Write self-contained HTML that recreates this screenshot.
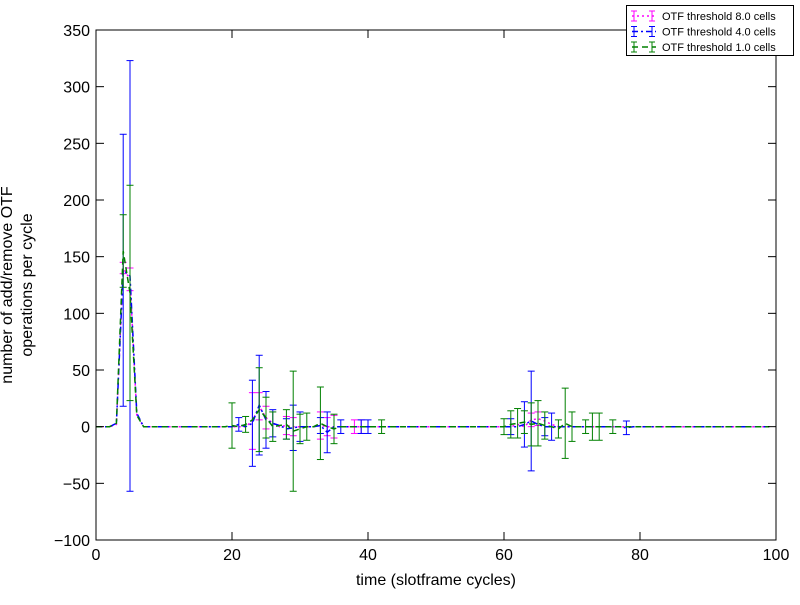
<!DOCTYPE html>
<html><head><meta charset="utf-8"><style>
body{margin:0;background:#fff;}
svg text{font-family:"Liberation Sans","DejaVu Sans",sans-serif;}
</style></head><body>
<svg id="chart" width="800" height="600" xmlns="http://www.w3.org/2000/svg">
<rect width="800" height="600" fill="#fff"/>
<g id="plot"></g>
<g id="axes"></g>
<g id="legend">
<rect x="626.5" y="5.5" width="167" height="50" fill="#fff" stroke="#000"/>
</g>
</svg>
<script>
const xTicks=[0,20,40,60,80,100];
const yTicks=[-100,-50,0,50,100,150,200,250,300,350];
const seriesNames=["OTF threshold 8.0 cells","OTF threshold 4.0 cells","OTF threshold 1.0 cells"];
const magX=[3,4,5,6,23,24,25,26,28,29,33,34,35,38,39,62,64,65,66,67];
const magY=[2,140,130,10,5,18,8,3,1,0,1,0,0,0,0,2,6,7,5,2];
const magErr=[0,5,10,0,25,12,10,0,8,8,12,8,10,6,6,0,6,6,0,0];
const bluX=[3,4,5,6,21,23,24,25,26,27,28,29,30,33,34,36,39,40,61,63,64,65,66,67,78];
const bluY=[3,138,133,12,2,3,19,6,3,1,-2,-1,0,1,-5,0,0,0,0,2,5,2,0,0,-1];
const bluErr=[0,120,190,0,6,38,44,25,12,0,9,20,13,7,18,6,6,6,7,20,44,0,8,12,6];
const grnX=[3,4,5,6,20,22,23,24,25,26,27,28,29,30,31,33,35,42,60,61,62,63,64,65,66,68,69,70,72,73,74,76];
const grnY=[3,155,118,10,1,2,6,15,8,0,1,2,-4,-2,0,3,-2,0,0,2,3,4,2,3,1,-2,3,0,0,0,0,0];
const grnErr=[0,32,95,0,20,7,0,37,18,13,0,13,53,13,12,32,13,6,7,12,13,10,19,20,12,8,31,13,6,12,12,6];
const X0=96,X1=776,Y0=540,Y1=30;
const xs=v=>X0+(v-0)/100*(X1-X0);
const ys=v=>Y0-(v+100)/450*(Y0-Y1);
const NS="http://www.w3.org/2000/svg";
function mk(t,a,p){const e=document.createElementNS(NS,t);for(const k in a)e.setAttribute(k,a[k]);p.appendChild(e);return e;}
const plot=document.getElementById('plot'),axes=document.getElementById('axes'),leg=document.getElementById('legend');
const defs=mk('clipPath',{id:'clip'},plot);mk('rect',{x:X0,y:Y1,width:X1-X0,height:Y0-Y1},defs);
const series=[
 {x:magX,y:magY,e:magErr,c:'#ff00ff',dash:'2,3',name:'series-8-cells'},
 {x:bluX,y:bluY,e:bluErr,c:'#0000ff',dash:'6,3,2,3',name:'series-4-cells'},
 {x:grnX,y:grnY,e:grnErr,c:'#008000',dash:'6,4',name:'series-1-cells'}];
series.forEach((s,si)=>{
 const g=mk('g',{'clip-path':'url(#clip)'},plot);
 
 
 let pts=[];
 for(let i=0;i<100;i++){const k=s.x.indexOf(i);const v=k>=0?s.y[k]:0;pts.push(xs(i).toFixed(1)+','+ys(v).toFixed(1));}
 const l=mk('polyline',{points:pts.join(' '),fill:'none',stroke:s.c,'stroke-width':1.5,'stroke-dasharray':s.dash},g);
 
 
 s.x.forEach((xv,k)=>{if(!s.e[k])return;const px=xs(xv),t=ys(s.y[k]+s.e[k]),b=ys(s.y[k]-s.e[k]);
  const eb=mk('g',{stroke:s.c,'stroke-width':1},g);
  
  
  mk('line',{x1:px,x2:px,y1:t,y2:b},eb);mk('line',{x1:px-3.5,x2:px+3.5,y1:t,y2:t},eb);mk('line',{x1:px-3.5,x2:px+3.5,y1:b,y2:b},eb);});
});
mk('rect',{x:X0,y:Y1,width:X1-X0,height:Y0-Y1,fill:'none',stroke:'#000','stroke-width':1},axes);
xTicks.forEach(v=>{const p=xs(v);mk('line',{x1:p,x2:p,y1:Y0,y2:Y0-8,stroke:'#000'},axes);mk('line',{x1:p,x2:p,y1:Y1,y2:Y1+8,stroke:'#000'},axes);
 const t=mk('text',{x:p,y:Y0+20,'text-anchor':'middle','font-size':16},axes);t.textContent=v;
 
 });
yTicks.forEach(v=>{const p=ys(v);mk('line',{x1:X0,x2:X0+8,y1:p,y2:p,stroke:'#000'},axes);mk('line',{x1:X1,x2:X1-8,y1:p,y2:p,stroke:'#000'},axes);
 const t=mk('text',{x:X0-6,y:p+6,'text-anchor':'end','font-size':16},axes);t.textContent=v<0?'\u2212'+(-v):v;
 
 });
const xl=mk('text',{x:436,y:585,'text-anchor':'middle','font-size':16},axes);xl.textContent='time (slotframe cycles)';


const yl=mk('text',{transform:'translate(12,285) rotate(-90)','text-anchor':'middle','font-size':16},axes);


const s1=mk('tspan',{x:0,dy:0},yl);s1.textContent='number of add/remove OTF';
const s2=mk('tspan',{x:0,dy:20},yl);s2.textContent='operations per cycle';
series.forEach((s,i)=>{const y=16+i*15.5;
 const e=mk('g',{},leg);
 
 
 mk('line',{x1:632,x2:656,y1:y,y2:y,stroke:s.c,'stroke-width':1.5,'stroke-dasharray':s.dash},e);
 [634,652].forEach(px=>{mk('line',{x1:px,x2:px,y1:y-5,y2:y+5,stroke:s.c},e);mk('line',{x1:px-3,x2:px+3,y1:y-5,y2:y-5,stroke:s.c},e);mk('line',{x1:px-3,x2:px+3,y1:y+5,y2:y+5,stroke:s.c},e);});
 const t=mk('text',{x:662,y:y+4,'font-size':11},e);t.textContent=seriesNames[i];});
</script>
</body></html>
